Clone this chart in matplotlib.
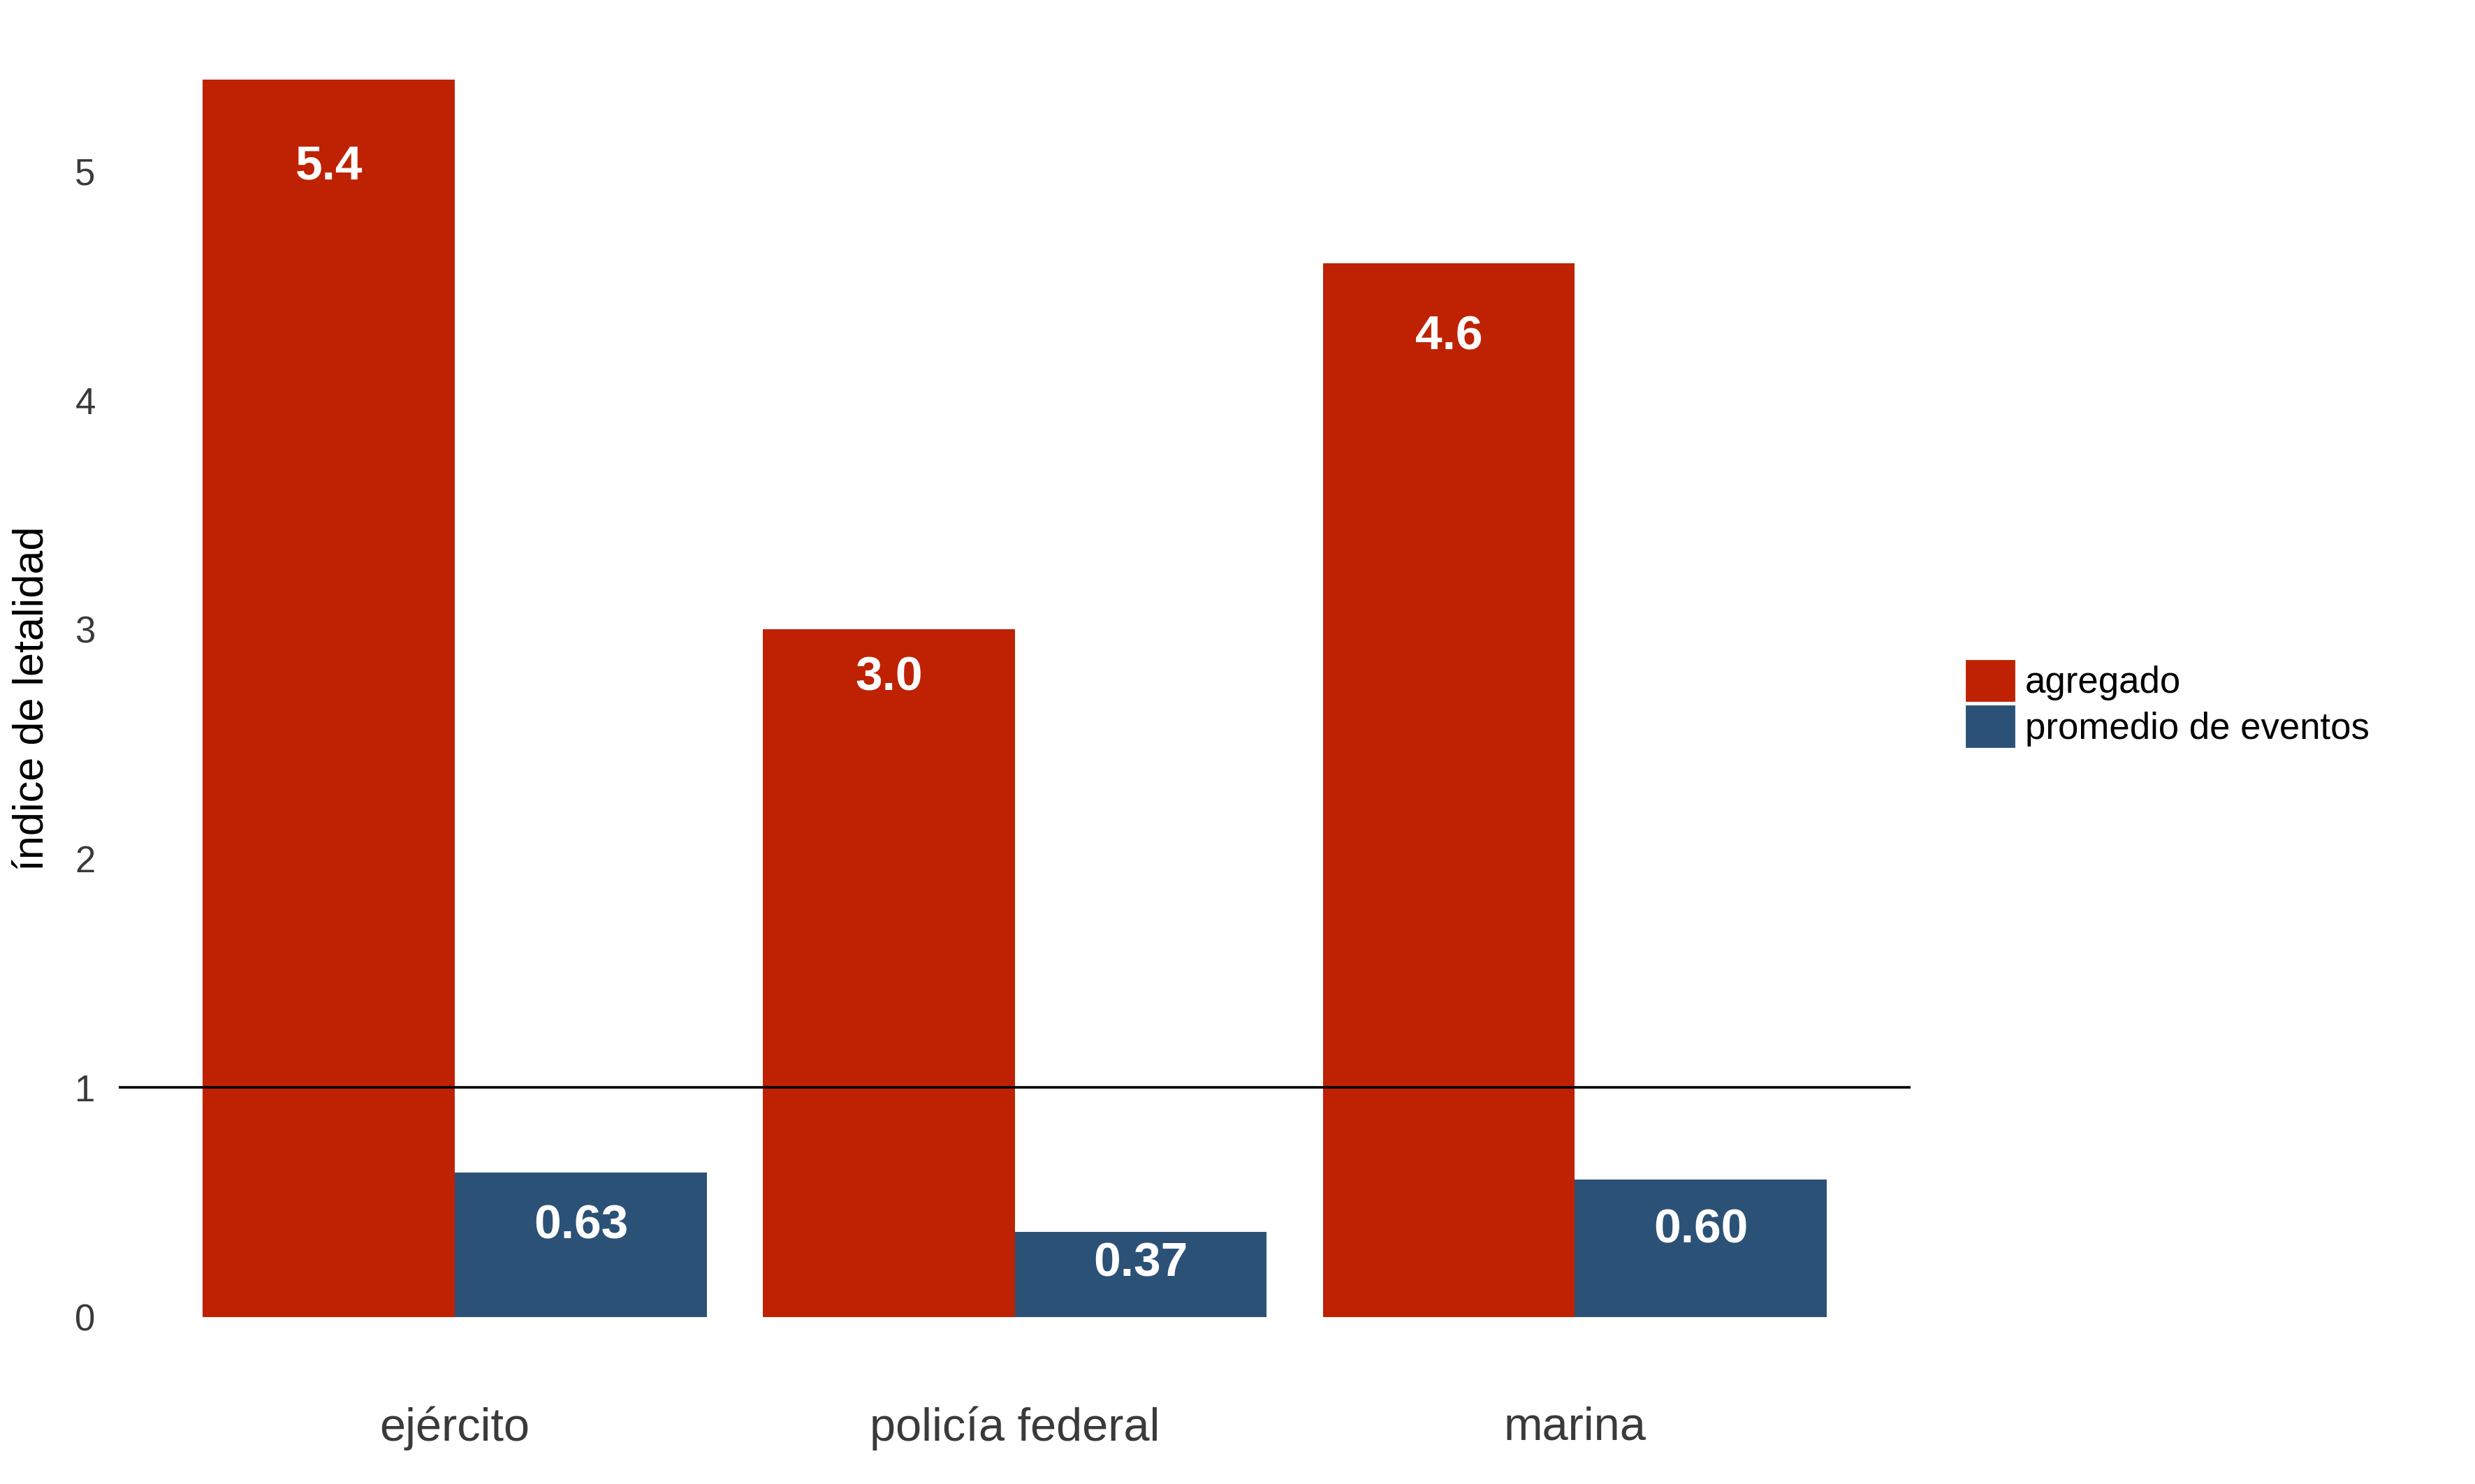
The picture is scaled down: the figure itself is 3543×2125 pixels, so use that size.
import numpy as np
import matplotlib
matplotlib.use('Agg')
import matplotlib.pyplot as plt
from matplotlib.patches import Patch
plt.rc('font', family=['Liberation Sans', 'DejaVu Sans'])

categories = ['ejército', 'policía federal', 'marina']
agregado = [5.4, 3.0, 4.6]
promedio = [0.63, 0.37, 0.60]
agregado_labels = ['5.4', '3.0', '4.6']
promedio_labels = ['0.63', '0.37', '0.60']

red = '#BF2202'
blue = '#2B5177'

fig = plt.figure(figsize=(17.715, 10.625), dpi=200)
ax = fig.add_axes([0.048, 0.071, 0.724, 0.917])

x = np.arange(len(categories))
w = 0.45
ax.bar(x - w / 2, agregado, w, color=red, label='agregado')
ax.bar(x + w / 2, promedio, w, color=blue, label='promedio de eventos')

for i in range(len(categories)):
    ax.text(x[i] - w / 2, agregado[i] * 0.93, agregado_labels[i], ha='center', va='center',
            color='white', fontsize=25, fontweight='bold')
    ax.text(x[i] + w / 2, promedio[i] * 0.63, promedio_labels[i], ha='center', va='center',
            color='white', fontsize=25, fontweight='bold')

ax.axhline(1, color='black', linewidth=1.3)

ax.set_xlim(-0.6, 2.6)
ax.set_ylim(-0.27, 5.67)
ax.set_yticks([0, 1, 2, 3, 4, 5])
ax.set_xticks(x)
ax.set_xticklabels(categories, fontsize=24, color='#3a3a3a')
ax.tick_params(axis='y', labelsize=19, colors='#3a3a3a', length=0, pad=12)
ax.tick_params(axis='x', length=0, pad=14)
ax.set_ylabel('índice de letalidad', fontsize=22, labelpad=12)
for s in ax.spines.values():
    s.set_visible(False)

handles = [Patch(color=red), Patch(color=blue)]
fig.legend(handles, ['agregado', 'promedio de eventos'], loc='center left',
           bbox_to_anchor=(0.787, 0.526), frameon=False, fontsize=19,
           handlelength=1.3, handleheight=1.3, handletextpad=0.3, labelspacing=0.15,
           borderpad=0)

fig.savefig('out.png', dpi=200, facecolor='white')
